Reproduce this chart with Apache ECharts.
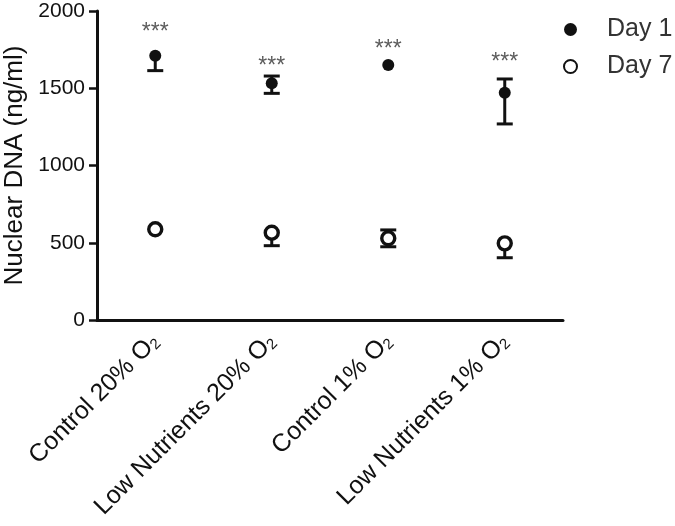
<!DOCTYPE html>
<html>
<head>
<meta charset="utf-8">
<script src="https://cdn.jsdelivr.net/npm/echarts@6/dist/echarts.min.js"></script>
<style>
  html, body { margin: 0; padding: 0; background: #fff; }
  #chart { width: 675px; height: 526px; }
</style>
</head>
<body>
<div id="chart"></div>
<script>
// groups on the x axis (last char of each is the subscript 2)
const categories = ["Control 20% O2", "Low Nutrients 20% O2", "Control 1% O2", "Low Nutrients 1% O2"];
const yTicks = [0, 500, 1000, 1500, 2000];

// Day 1 means and error bar ends
const day1 = [1711, 1532, 1650, 1471];
const day1Low = [1614, 1467, 1650, 1269];
const day1High = [1711, 1579, 1650, 1560];

// Day 7 means and error bar ends
const day7 = [587, 565, 529, 496];
const day7Low = [587, 481, 474, 403];
const day7High = [587, 565, 583, 496];

// where the *** marks sit
const starY = [1890, 1670, 1780, 1696];

const font = "Liberation Sans";

function errData(mean, low, high) {
  return categories.map((c, i) => [i, low[i], high[i], mean[i]]);
}

function renderErrorBar(params, api) {
  const idx = api.value(0);
  const mean = api.value(3);
  const low = api.value(1);
  const high = api.value(2);
  const x = api.coord([idx, mean])[0];
  const yLow = api.coord([idx, low])[1];
  const yHigh = api.coord([idx, high])[1];
  const half = 8;
  const style = { stroke: "#111", lineWidth: 3, fill: null };
  const children = [];
  if (low !== high) {
    children.push({ type: "line", shape: { x1: x, y1: yHigh, x2: x, y2: yLow }, style: style });
  }
  if (low < mean) {
    children.push({ type: "line", shape: { x1: x - half, y1: yLow, x2: x + half, y2: yLow }, style: style });
  }
  if (high > mean) {
    children.push({ type: "line", shape: { x1: x - half, y1: yHigh, x2: x + half, y2: yHigh }, style: style });
  }
  return { type: "group", children: children };
}

const myChart = echarts.init(document.getElementById("chart"));

const option = {
  animation: false,
  backgroundColor: "#fff",
  grid: { left: 97, right: 112, top: 11, bottom: 206, containLabel: false, outerBoundsMode: "none" },
  legend: {
    orient: "vertical",
    left: 558,
    top: 12,
    itemWidth: 13,
    itemHeight: 13,
    itemGap: 12,
    itemTextGap: 5,
    textStyle: { fontFamily: font, fontSize: 25, color: "#333", lineHeight: 25, padding: [0, 0, 0, 25] },
    data: ["Day 1", "Day 7"]
  },
  xAxis: {
    type: "category",
    data: categories,
    boundaryGap: true,
    axisLine: { lineStyle: { color: "#111", width: 3 } },
    axisTick: { alignWithLabel: true, length: 8, lineStyle: { color: "#111", width: 2.5 } },
    axisLabel: {
      rotate: 45,
      margin: 18,
      interval: 0,
      color: "#111",
      formatter: v => "{a|" + v.slice(0, -1) + "}{s|" + v.slice(-1) + "}",
      rich: {
        a: { fontFamily: font, fontSize: 25, color: "#111" },
        s: { fontFamily: font, fontSize: 15, color: "#111", verticalAlign: "bottom" }
      }
    },
    splitLine: { show: false }
  },
  yAxis: {
    type: "value",
    min: yTicks[0],
    max: yTicks[yTicks.length - 1],
    interval: 500,
    name: "Nuclear DNA (ng/ml)",
    nameLocation: "middle",
    nameGap: 67,
    nameTextStyle: { fontFamily: font, fontSize: 26, color: "#111" },
    axisLine: { show: true, lineStyle: { color: "#111", width: 3 } },
    axisTick: { show: true, length: 8, lineStyle: { color: "#111", width: 2.5 } },
    axisLabel: { fontFamily: font, fontSize: 21, color: "#111", margin: 12, formatter: v => String(v) },
    splitLine: { show: false }
  },
  series: [
    {
      type: "custom",
      name: "err1",
      z: 1,
      renderItem: renderErrorBar,
      encode: { x: 0, y: [1, 2] },
      data: errData(day1, day1Low, day1High)
    },
    {
      type: "custom",
      name: "err7",
      z: 1,
      renderItem: renderErrorBar,
      encode: { x: 0, y: [1, 2] },
      data: errData(day7, day7Low, day7High)
    },
    {
      name: "Day 1",
      type: "scatter",
      z: 3,
      symbol: "circle",
      symbolSize: 12,
      itemStyle: { color: "#111", opacity: 1 },
      data: day1
    },
    {
      name: "Day 7",
      type: "scatter",
      z: 3,
      symbol: "circle",
      symbolSize: 13,
      itemStyle: { color: "#fff", borderColor: "#111", borderWidth: 3.4, opacity: 1 },
      data: day7
    },
    {
      name: "stars",
      type: "scatter",
      z: 4,
      symbolSize: 0,
      silent: true,
      label: {
        show: true,
        position: "inside",
        formatter: "***",
        offset: [0, 5],
        fontFamily: font,
        fontSize: 23,
        color: "#333"
      },
      data: starY
    }
  ]
};

option && myChart.setOption(option);
</script>
</body>
</html>
